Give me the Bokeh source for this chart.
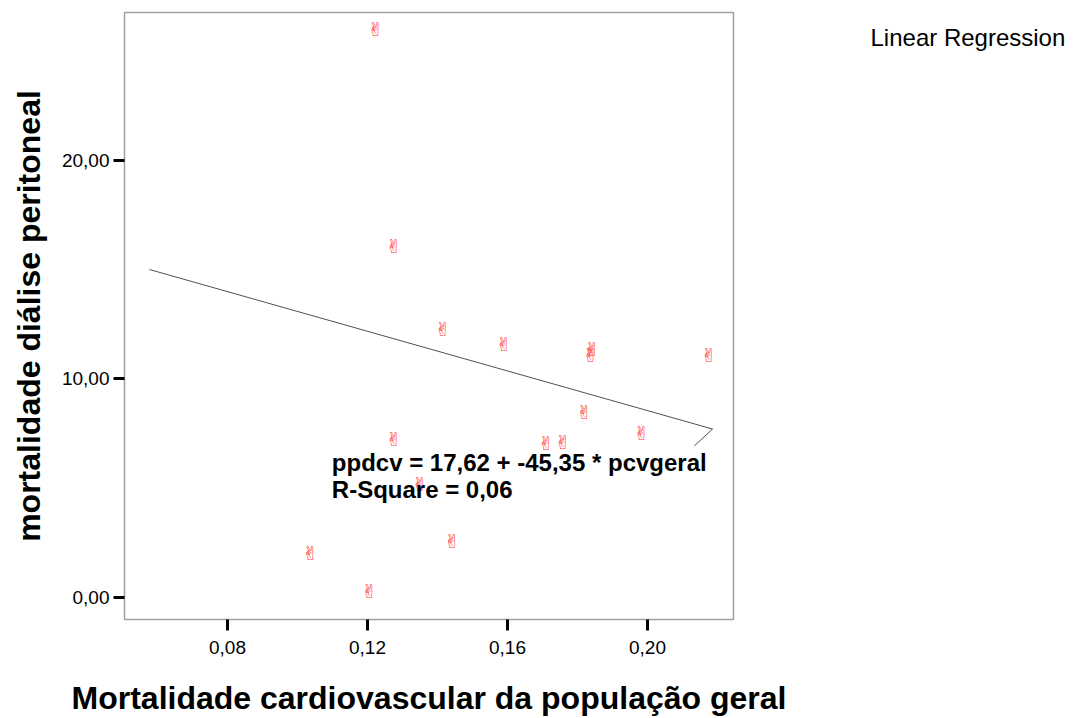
from bokeh.plotting import figure
from bokeh.models import (ColumnDataSource, FixedTicker, CustomJSTickFormatter,
                          Label, Range1d)
from bokeh.core.properties import value
from bokeh.embed import file_html
from bokeh.resources import INLINE

# Cardiovascular mortality, general population (x) vs peritoneal dialysis mortality (y)
pcvgeral = [0.1223, 0.1275, 0.1415, 0.1589, 0.1837, 0.1841, 0.2175, 0.1819,
            0.1275, 0.1710, 0.1758, 0.1983, 0.1349, 0.1441, 0.1036, 0.1205]
ppdcv = [25.99, 16.09, 12.26, 11.59, 11.11, 11.35, 11.11, 8.47,
         7.24, 7.07, 7.13, 7.53, 5.21, 2.60, 2.03, 0.32]

# Linear fit: ppdcv = b0 + b1 * pcvgeral
b0 = 17.62
b1 = -45.35
r_square = 0.06
fit_x = [0.0577, 0.2186]
# end hook of the drawn fit path
fit_tail_x = [0.2186, 0.2134]
fit_tail_y = [b0 + b1 * 0.2186, 6.94]

x_ticks = [0.08, 0.12, 0.16, 0.20]
y_ticks = [0, 10, 20]

FONT = "Liberation Sans"

p = figure(width=1078, height=718, output_backend="svg", toolbar_location=None,
           x_range=Range1d(0.05057, 0.22457), y_range=Range1d(-1.005, 26.76),
           min_border_left=124, min_border_right=345,
           min_border_top=12, min_border_bottom=98)
p.background_fill_color = "white"
p.border_fill_color = "white"
p.outline_line_color = "#a0a0a0"
p.outline_line_width = 1.5
p.grid.visible = False

# fitted line
fit_y = [b0 + b1 * v for v in fit_x]
p.line(fit_x, fit_y, line_color="#505050", line_width=1)
p.line(fit_tail_x, fit_tail_y, line_color="#505050", line_width=1)

# observations drawn with a hand glyph marker
src = ColumnDataSource(dict(x=pcvgeral, y=ppdcv, t=["\u270c"] * len(ppdcv)))
p.text("x", "y", text="t", source=src, text_color="#ff3838",
       text_font=value("DejaVu Sans"), text_font_size="19px",
       text_align="center", text_baseline="middle")

fmt = CustomJSTickFormatter(code="return tick.toFixed(2).replace('.', ',');")

for ax, ticks in ((p.xaxis, x_ticks), (p.yaxis, y_ticks)):
    ax.ticker = FixedTicker(ticks=ticks)
    ax.minor_tick_line_color = None
    ax.axis_line_color = None
    ax.major_tick_line_color = "black"
    ax.major_tick_line_width = 3
    ax.major_tick_in = 0
    ax.formatter = fmt
    ax.major_label_text_font = FONT
    ax.major_label_text_font_size = "19px"
    ax.major_label_text_color = "black"
    ax.axis_label_text_font = FONT
    ax.axis_label_text_font_style = "bold"
    ax.axis_label_text_font_size = "32px"
    ax.axis_label_text_color = "black"

p.xaxis.major_tick_out = 11
p.yaxis.major_tick_out = 11
p.xaxis.major_label_standoff = 10
p.yaxis.major_label_standoff = 4
p.xaxis.axis_label = "Mortalidade cardiovascular da população geral"
p.yaxis.axis_label = "mortalidade diálise peritoneal"
p.xaxis.axis_label_standoff = 23
p.yaxis.axis_label_standoff = 12

eq = Label(x=0.1098, y=6.16, text="ppdcv = %s + %s * pcvgeral" %
           (f"{b0:.2f}".replace(".", ","), f"{b1:.2f}".replace(".", ",")),
           text_font=FONT, text_font_style="bold", text_font_size="24px",
           text_color="black", text_baseline="middle")
rsq = Label(x=0.1098, y=4.93, text="R-Square = " + f"{r_square:.2f}".replace(".", ","),
            text_font=FONT, text_font_style="bold", text_font_size="24px",
            text_color="black", text_baseline="middle")
p.add_layout(eq)
p.add_layout(rsq)

# fit caption in the right-hand panel (screen units from the panel's lower-left)
legend_lbl = Label(x=137, y=582, x_units="screen", y_units="screen",
                   text="Linear Regression", text_font=FONT, text_font_size="24px",
                   text_color="black", text_baseline="middle")
p.add_layout(legend_lbl, "right")

open("out.html", "w").write(file_html(p, INLINE))
